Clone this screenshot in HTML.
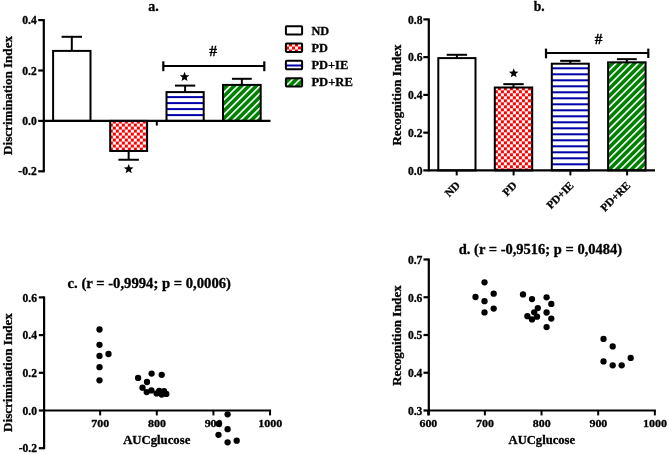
<!DOCTYPE html>
<html><head><meta charset="utf-8"><style>
html,body{margin:0;padding:0;background:#fff;}
svg{display:block;will-change:transform;}
text{font-family:"Liberation Serif", serif;font-weight:bold;fill:#000;stroke:#000;stroke-width:0.3px;}
</style></head><body>
<svg width="669" height="454" viewBox="0 0 669 454">
<defs>
<pattern id="chkA" width="6" height="6" patternUnits="userSpaceOnUse" patternTransform="translate(1.85,3.6)"><rect width="6" height="6" fill="#fff"/><rect width="3" height="3" fill="#f00"/><rect x="3" y="3" width="3" height="3" fill="#f00"/></pattern>
<pattern id="chkB" width="6" height="6" patternUnits="userSpaceOnUse" patternTransform="translate(-0.1,3.3)"><rect width="6" height="6" fill="#fff"/><rect width="3" height="3" fill="#f00"/><rect x="3" y="3" width="3" height="3" fill="#f00"/></pattern>
<pattern id="chkL" width="6" height="6" patternUnits="userSpaceOnUse" patternTransform="translate(4,4.5)"><rect width="6" height="6" fill="#fff"/><rect width="3" height="3" fill="#f00"/><rect x="3" y="3" width="3" height="3" fill="#f00"/></pattern>
<pattern id="hstrA" width="6" height="6" patternUnits="userSpaceOnUse" patternTransform="translate(0,0.1)"><rect width="6" height="6" fill="#fff"/><rect width="6" height="2" fill="#0000aa"/></pattern>
<pattern id="hstrB" width="6" height="6" patternUnits="userSpaceOnUse" patternTransform="translate(0,1.3)"><rect width="6" height="6" fill="#fff"/><rect width="6" height="2" fill="#0000aa"/></pattern>
<pattern id="hstrL" width="6" height="6" patternUnits="userSpaceOnUse" patternTransform="translate(0,4.5)"><rect width="6" height="6" fill="#fff"/><rect width="6" height="2" fill="#0000aa"/></pattern>
<pattern id="hatchA" width="5.2" height="10" patternUnits="userSpaceOnUse" patternTransform="rotate(45) translate(4.5,0)"><rect width="5.2" height="10" fill="#008000"/><rect width="1.6" height="10" fill="#fff"/></pattern>
<pattern id="hatchB" width="5.2" height="10" patternUnits="userSpaceOnUse" patternTransform="rotate(45) translate(1.25,0)"><rect width="5.2" height="10" fill="#008000"/><rect width="1.6" height="10" fill="#fff"/></pattern>
<pattern id="hatchL" width="5.2" height="10" patternUnits="userSpaceOnUse" patternTransform="rotate(45) translate(2.2,0)"><rect width="5.2" height="10" fill="#008000"/><rect width="1.5" height="10" fill="#fff"/></pattern>
</defs>
<rect width="669" height="454" fill="#fff"/>
<line x1="43.8" y1="19.099999999999994" x2="43.8" y2="172.3" stroke="#000" stroke-width="2.2"/>
<line x1="38.2" y1="20.099999999999994" x2="43.8" y2="20.099999999999994" stroke="#000" stroke-width="2.2"/>
<text x="36.7" y="24.099999999999994" font-size="11.6" text-anchor="end">0.4</text>
<line x1="38.2" y1="70.5" x2="43.8" y2="70.5" stroke="#000" stroke-width="2.2"/>
<text x="36.7" y="74.5" font-size="11.6" text-anchor="end">0.2</text>
<line x1="38.2" y1="120.9" x2="43.8" y2="120.9" stroke="#000" stroke-width="2.2"/>
<text x="36.7" y="124.9" font-size="11.6" text-anchor="end">0.0</text>
<line x1="38.2" y1="171.3" x2="43.8" y2="171.3" stroke="#000" stroke-width="2.2"/>
<text x="36.7" y="175.3" font-size="11.6" text-anchor="end">-0.2</text>
<rect x="53.099999999999994" y="50.9" width="37.4" height="70.0" fill="#fff" stroke="#000" stroke-width="2"/>
<line x1="71.8" y1="50.9" x2="71.8" y2="36.8" stroke="#000" stroke-width="2.0"/>
<line x1="61.599999999999994" y1="36.8" x2="82.0" y2="36.8" stroke="#000" stroke-width="2.0"/>
<rect x="110.2" y="120.9" width="36.9" height="30.099999999999994" fill="url(#chkA)" stroke="#000" stroke-width="2"/>
<line x1="128.65" y1="151" x2="128.65" y2="159.75" stroke="#000" stroke-width="2.0"/>
<line x1="118.4" y1="159.75" x2="138.9" y2="159.75" stroke="#000" stroke-width="2.0"/>
<rect x="166.5" y="92.1" width="37.2" height="28.80000000000001" fill="url(#hstrA)" stroke="#000" stroke-width="2"/>
<line x1="185.1" y1="92.1" x2="185.1" y2="85.6" stroke="#000" stroke-width="2.0"/>
<line x1="174.95" y1="85.6" x2="195.25" y2="85.6" stroke="#000" stroke-width="2.0"/>
<rect x="223.0" y="84.9" width="37.7" height="36.0" fill="url(#hatchA)" stroke="#000" stroke-width="2"/>
<line x1="241.85" y1="84.9" x2="241.85" y2="78.8" stroke="#000" stroke-width="2.0"/>
<line x1="231.95" y1="78.8" x2="251.75" y2="78.8" stroke="#000" stroke-width="2.0"/>
<line x1="43.8" y1="120.9" x2="270.5" y2="120.9" stroke="#000" stroke-width="2.2"/>
<line x1="156.8" y1="120.9" x2="156.8" y2="125.6" stroke="#000" stroke-width="2"/>
<polygon points="184.55,71.80 185.85,75.15 189.44,75.35 186.65,77.62 187.57,81.10 184.55,79.15 181.53,81.10 182.45,77.62 179.66,75.35 183.25,75.15" fill="#000"/>
<polygon points="128.70,163.90 130.00,167.25 133.59,167.45 130.80,169.72 131.72,173.20 128.70,171.25 125.68,173.20 126.60,169.72 123.81,167.45 127.40,167.25" fill="#000"/>
<line x1="163.3" y1="66.0" x2="264.3" y2="66.0" stroke="#000" stroke-width="2.1"/>
<line x1="163.3" y1="61.3" x2="163.3" y2="71.2" stroke="#000" stroke-width="2.2"/>
<line x1="264.3" y1="61.3" x2="264.3" y2="71.2" stroke="#000" stroke-width="2.2"/>
<text x="213" y="55.6" font-size="15.5" text-anchor="middle">#</text>
<text x="148.3" y="10.6" font-size="14.0" textLength="10.5" lengthAdjust="spacingAndGlyphs">a.</text>
<text x="11.9" y="95.45" font-size="12.8" text-anchor="middle" textLength="118.9" lengthAdjust="spacingAndGlyphs" transform="rotate(-90 11.9 95.45)">Discrimination Index</text>
<rect x="285.9" y="26.150000000000002" width="16.2" height="8.4" rx="0.8" fill="#fff" stroke="#000" stroke-width="2"/>
<text x="311.4" y="34.5" font-size="12.0" textLength="17.7" lengthAdjust="spacingAndGlyphs">ND</text>
<rect x="285.9" y="43.5" width="16.2" height="8.4" rx="0.8" fill="url(#chkL)" stroke="#000" stroke-width="2"/>
<text x="311.4" y="51.7" font-size="12.0" textLength="16.4" lengthAdjust="spacingAndGlyphs">PD</text>
<rect x="285.9" y="60.85000000000001" width="16.2" height="8.4" rx="0.8" fill="url(#hstrL)" stroke="#000" stroke-width="2"/>
<text x="311.4" y="68.9" font-size="12.0" textLength="36.9" lengthAdjust="spacingAndGlyphs">PD+IE</text>
<rect x="285.9" y="78.2" width="16.2" height="8.4" rx="0.8" fill="url(#hatchL)" stroke="#000" stroke-width="2"/>
<text x="311.4" y="86.1" font-size="12.0" textLength="41.5" lengthAdjust="spacingAndGlyphs">PD+RE</text>
<line x1="428.8" y1="18.400000000000006" x2="428.8" y2="171.4" stroke="#000" stroke-width="2.2"/>
<line x1="423.3" y1="19.400000000000006" x2="428.8" y2="19.400000000000006" stroke="#000" stroke-width="2.2"/>
<text x="422.5" y="23.500000000000007" font-size="11.6" text-anchor="end">0.8</text>
<line x1="423.3" y1="57.150000000000006" x2="428.8" y2="57.150000000000006" stroke="#000" stroke-width="2.2"/>
<text x="422.5" y="61.25000000000001" font-size="11.6" text-anchor="end">0.6</text>
<line x1="423.3" y1="94.9" x2="428.8" y2="94.9" stroke="#000" stroke-width="2.2"/>
<text x="422.5" y="99.0" font-size="11.6" text-anchor="end">0.4</text>
<line x1="423.3" y1="132.65" x2="428.8" y2="132.65" stroke="#000" stroke-width="2.2"/>
<text x="422.5" y="136.75" font-size="11.6" text-anchor="end">0.2</text>
<line x1="423.3" y1="170.4" x2="428.8" y2="170.4" stroke="#000" stroke-width="2.2"/>
<text x="422.5" y="174.5" font-size="11.6" text-anchor="end">0.0</text>
<rect x="438.29999999999995" y="58.1" width="37.2" height="112.30000000000001" fill="#fff" stroke="#000" stroke-width="2"/>
<line x1="456.9" y1="58.1" x2="456.9" y2="54.8" stroke="#000" stroke-width="2.0"/>
<line x1="446.7" y1="54.8" x2="467.09999999999997" y2="54.8" stroke="#000" stroke-width="2.0"/>
<rect x="494.8" y="87.5" width="37.4" height="82.9" fill="url(#chkB)" stroke="#000" stroke-width="2"/>
<line x1="513.5" y1="87.5" x2="513.5" y2="84.15" stroke="#000" stroke-width="2.0"/>
<line x1="503.3" y1="84.15" x2="523.7" y2="84.15" stroke="#000" stroke-width="2.0"/>
<rect x="551.8" y="63.7" width="37" height="106.7" fill="url(#hstrB)" stroke="#000" stroke-width="2"/>
<line x1="570.3" y1="63.7" x2="570.3" y2="60.85" stroke="#000" stroke-width="2.0"/>
<line x1="560.15" y1="60.85" x2="580.4499999999999" y2="60.85" stroke="#000" stroke-width="2.0"/>
<rect x="608.1" y="62.35" width="37.5" height="108.05000000000001" fill="url(#hatchB)" stroke="#000" stroke-width="2"/>
<line x1="626.85" y1="62.35" x2="626.85" y2="59.15" stroke="#000" stroke-width="2.0"/>
<line x1="616.95" y1="59.15" x2="636.75" y2="59.15" stroke="#000" stroke-width="2.0"/>
<line x1="428.8" y1="170.4" x2="655" y2="170.4" stroke="#000" stroke-width="2.2"/>
<line x1="456.7" y1="170.4" x2="456.7" y2="175.4" stroke="#000" stroke-width="2"/>
<text x="460.7" y="186.1" font-size="11.2" text-anchor="end" transform="rotate(-45 460.7 186.1)">ND</text>
<line x1="513.6" y1="170.4" x2="513.6" y2="175.4" stroke="#000" stroke-width="2"/>
<text x="517.6" y="186.1" font-size="11.2" text-anchor="end" transform="rotate(-45 517.6 186.1)">PD</text>
<line x1="570.4" y1="170.4" x2="570.4" y2="175.4" stroke="#000" stroke-width="2"/>
<text x="574.4" y="186.1" font-size="11.2" text-anchor="end" transform="rotate(-45 574.4 186.1)">PD+IE</text>
<line x1="627.1" y1="170.4" x2="627.1" y2="175.4" stroke="#000" stroke-width="2"/>
<text x="631.1" y="186.1" font-size="11.2" text-anchor="end" transform="rotate(-45 631.1 186.1)">PD+RE</text>
<polygon points="513.70,68.30 514.96,71.54 518.43,71.74 515.73,73.94 516.62,77.30 513.70,75.41 510.78,77.30 511.67,73.94 508.97,71.74 512.44,71.54" fill="#000"/>
<line x1="546" y1="53.05" x2="648.3" y2="53.05" stroke="#000" stroke-width="2.1"/>
<line x1="546" y1="48.6" x2="546" y2="58.3" stroke="#000" stroke-width="2.2"/>
<line x1="648.3" y1="48.6" x2="648.3" y2="58.0" stroke="#000" stroke-width="2.2"/>
<text x="598.6" y="44.1" font-size="15.3" text-anchor="middle">#</text>
<text x="533.7" y="10.6" font-size="14" textLength="10.9" lengthAdjust="spacingAndGlyphs">b.</text>
<text x="400.6" y="95.1" font-size="12.8" text-anchor="middle" textLength="101.0" lengthAdjust="spacingAndGlyphs" transform="rotate(-90 400.6 95.1)">Recognition Index</text>
<line x1="44.1" y1="296.4" x2="44.1" y2="449.2" stroke="#000" stroke-width="2.2"/>
<line x1="38.8" y1="297.4" x2="44.1" y2="297.4" stroke="#000" stroke-width="2.2"/>
<text x="37.0" y="301.5" font-size="11.6" text-anchor="end">0.6</text>
<line x1="38.8" y1="335.1" x2="44.1" y2="335.1" stroke="#000" stroke-width="2.2"/>
<text x="37.0" y="339.20000000000005" font-size="11.6" text-anchor="end">0.4</text>
<line x1="38.8" y1="372.8" x2="44.1" y2="372.8" stroke="#000" stroke-width="2.2"/>
<text x="37.0" y="376.90000000000003" font-size="11.6" text-anchor="end">0.2</text>
<line x1="38.8" y1="410.5" x2="44.1" y2="410.5" stroke="#000" stroke-width="2.2"/>
<text x="37.0" y="414.6" font-size="11.6" text-anchor="end">0.0</text>
<line x1="38.8" y1="448.2" x2="44.1" y2="448.2" stroke="#000" stroke-width="2.2"/>
<text x="37.0" y="452.3" font-size="11.6" text-anchor="end">-0.2</text>
<line x1="44.1" y1="410.5" x2="271.06" y2="410.5" stroke="#000" stroke-width="2.2"/>
<line x1="100.14" y1="410.5" x2="100.14" y2="415.4" stroke="#000" stroke-width="2"/>
<text x="100.34" y="426.6" font-size="11.0" text-anchor="middle" textLength="17.9" lengthAdjust="spacingAndGlyphs">700</text>
<line x1="156.78" y1="410.5" x2="156.78" y2="415.4" stroke="#000" stroke-width="2"/>
<text x="156.98" y="426.6" font-size="11.0" text-anchor="middle" textLength="17.9" lengthAdjust="spacingAndGlyphs">800</text>
<line x1="213.42000000000002" y1="410.5" x2="213.42000000000002" y2="415.4" stroke="#000" stroke-width="2"/>
<text x="213.62" y="426.6" font-size="11.0" text-anchor="middle" textLength="17.9" lengthAdjust="spacingAndGlyphs">900</text>
<line x1="270.06" y1="410.5" x2="270.06" y2="415.4" stroke="#000" stroke-width="2"/>
<text x="270.26" y="426.6" font-size="11.0" text-anchor="middle" textLength="24.1" lengthAdjust="spacingAndGlyphs">1000</text>
<text x="123.2" y="443.6" font-size="12.4" textLength="67.1" lengthAdjust="spacingAndGlyphs">AUCglucose</text>
<text x="67.6" y="288.1" font-size="13.8" textLength="163.4" lengthAdjust="spacingAndGlyphs">c. (r = -0,9994; p = 0,0006)</text>
<text x="11.9" y="372.6" font-size="12.8" text-anchor="middle" textLength="118.7" lengthAdjust="spacingAndGlyphs" transform="rotate(-90 11.9 372.6)">Discrimination Index</text>
<circle cx="99.5" cy="329.5" r="3.15" fill="#000"/>
<circle cx="99.5" cy="344.8" r="3.15" fill="#000"/>
<circle cx="99.5" cy="355.9" r="3.15" fill="#000"/>
<circle cx="99.5" cy="367.2" r="3.15" fill="#000"/>
<circle cx="99.5" cy="380.3" r="3.15" fill="#000"/>
<circle cx="108.5" cy="354" r="3.15" fill="#000"/>
<circle cx="138.1" cy="377.9" r="3.15" fill="#000"/>
<circle cx="151.6" cy="373.6" r="3.15" fill="#000"/>
<circle cx="161.7" cy="374.8" r="3.15" fill="#000"/>
<circle cx="147" cy="382" r="3.15" fill="#000"/>
<circle cx="142.5" cy="387.7" r="3.15" fill="#000"/>
<circle cx="146.7" cy="392.1" r="3.15" fill="#000"/>
<circle cx="151.4" cy="390.4" r="3.15" fill="#000"/>
<circle cx="156.6" cy="393.4" r="3.15" fill="#000"/>
<circle cx="159.2" cy="391" r="3.15" fill="#000"/>
<circle cx="161.7" cy="394.6" r="3.15" fill="#000"/>
<circle cx="164.1" cy="391.2" r="3.15" fill="#000"/>
<circle cx="166.3" cy="393.9" r="3.15" fill="#000"/>
<circle cx="227.6" cy="414.3" r="3.15" fill="#000"/>
<circle cx="218.5" cy="423.8" r="3.15" fill="#000"/>
<circle cx="227.6" cy="429.2" r="3.15" fill="#000"/>
<circle cx="218.5" cy="434.8" r="3.15" fill="#000"/>
<circle cx="227.6" cy="442.3" r="3.15" fill="#000"/>
<circle cx="236.7" cy="440.7" r="3.15" fill="#000"/>
<line x1="428.8" y1="258.5" x2="428.8" y2="415.4" stroke="#000" stroke-width="2.2"/>
<line x1="423.5" y1="259.5" x2="428.8" y2="259.5" stroke="#000" stroke-width="2.2"/>
<text x="422.4" y="263.8" font-size="11.6" text-anchor="end">0.7</text>
<line x1="423.5" y1="297.25" x2="428.8" y2="297.25" stroke="#000" stroke-width="2.2"/>
<text x="422.4" y="301.55" font-size="11.6" text-anchor="end">0.6</text>
<line x1="423.5" y1="335.0" x2="428.8" y2="335.0" stroke="#000" stroke-width="2.2"/>
<text x="422.4" y="339.3" font-size="11.6" text-anchor="end">0.5</text>
<line x1="423.5" y1="372.75" x2="428.8" y2="372.75" stroke="#000" stroke-width="2.2"/>
<text x="422.4" y="377.05" font-size="11.6" text-anchor="end">0.4</text>
<line x1="423.5" y1="410.5" x2="428.8" y2="410.5" stroke="#000" stroke-width="2.2"/>
<text x="422.4" y="414.8" font-size="11.6" text-anchor="end">0.3</text>
<line x1="428.8" y1="410.5" x2="655.8399999999999" y2="410.5" stroke="#000" stroke-width="2.2"/>
<line x1="428.2" y1="410.5" x2="428.2" y2="415.4" stroke="#000" stroke-width="2"/>
<text x="428.4" y="426.6" font-size="11.0" text-anchor="middle" textLength="17.9" lengthAdjust="spacingAndGlyphs">600</text>
<line x1="484.86" y1="410.5" x2="484.86" y2="415.4" stroke="#000" stroke-width="2"/>
<text x="485.06" y="426.6" font-size="11.0" text-anchor="middle" textLength="17.9" lengthAdjust="spacingAndGlyphs">700</text>
<line x1="541.52" y1="410.5" x2="541.52" y2="415.4" stroke="#000" stroke-width="2"/>
<text x="541.72" y="426.6" font-size="11.0" text-anchor="middle" textLength="17.9" lengthAdjust="spacingAndGlyphs">800</text>
<line x1="598.18" y1="410.5" x2="598.18" y2="415.4" stroke="#000" stroke-width="2"/>
<text x="598.38" y="426.6" font-size="11.0" text-anchor="middle" textLength="17.9" lengthAdjust="spacingAndGlyphs">900</text>
<line x1="654.8399999999999" y1="410.5" x2="654.8399999999999" y2="415.4" stroke="#000" stroke-width="2"/>
<text x="655.04" y="426.6" font-size="11.0" text-anchor="middle" textLength="24.1" lengthAdjust="spacingAndGlyphs">1000</text>
<text x="508.6" y="443.6" font-size="12.4" textLength="66.4" lengthAdjust="spacingAndGlyphs">AUCglucose</text>
<text x="458.8" y="253.5" font-size="13.8" textLength="163.3" lengthAdjust="spacingAndGlyphs">d. (r = -0,9516; p = 0,0484)</text>
<text x="400.6" y="335.55" font-size="12.8" text-anchor="middle" textLength="100.5" lengthAdjust="spacingAndGlyphs" transform="rotate(-90 400.6 335.55)">Recognition Index</text>
<circle cx="484.5" cy="282.3" r="3.15" fill="#000"/>
<circle cx="493.7" cy="293.7" r="3.15" fill="#000"/>
<circle cx="475.5" cy="297" r="3.15" fill="#000"/>
<circle cx="484.5" cy="301.2" r="3.15" fill="#000"/>
<circle cx="493.7" cy="308.6" r="3.15" fill="#000"/>
<circle cx="484.5" cy="312.4" r="3.15" fill="#000"/>
<circle cx="523" cy="294.4" r="3.15" fill="#000"/>
<circle cx="532" cy="299.1" r="3.15" fill="#000"/>
<circle cx="546.6" cy="297.3" r="3.15" fill="#000"/>
<circle cx="551.3" cy="303.9" r="3.15" fill="#000"/>
<circle cx="537.8" cy="308.1" r="3.15" fill="#000"/>
<circle cx="534.2" cy="312.3" r="3.15" fill="#000"/>
<circle cx="527.4" cy="316.2" r="3.15" fill="#000"/>
<circle cx="532" cy="319.4" r="3.15" fill="#000"/>
<circle cx="537" cy="316.7" r="3.15" fill="#000"/>
<circle cx="546.6" cy="312.5" r="3.15" fill="#000"/>
<circle cx="551.3" cy="318.6" r="3.15" fill="#000"/>
<circle cx="546.6" cy="327.1" r="3.15" fill="#000"/>
<circle cx="603.5" cy="338.9" r="3.15" fill="#000"/>
<circle cx="612.7" cy="346.4" r="3.15" fill="#000"/>
<circle cx="630.7" cy="357.9" r="3.15" fill="#000"/>
<circle cx="603.5" cy="361.4" r="3.15" fill="#000"/>
<circle cx="612.7" cy="365.3" r="3.15" fill="#000"/>
<circle cx="621.7" cy="365.3" r="3.15" fill="#000"/>
</svg>
</body></html>
